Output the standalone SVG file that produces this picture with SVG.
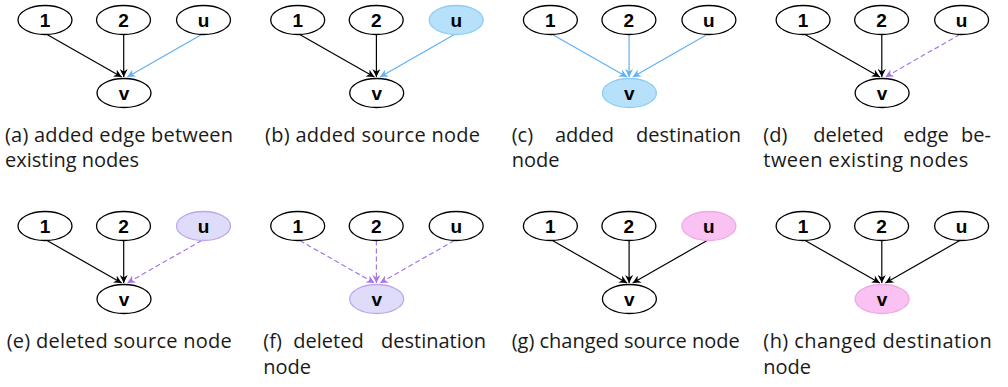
<svg xmlns="http://www.w3.org/2000/svg" width="1008" height="387" viewBox="0 0 1008 387">
<style>
.n ellipse{fill:#fff;stroke:#000;stroke-width:1.3}
.n text{font-family:"Liberation Sans",Arial,sans-serif;font-weight:bold;font-size:19px;text-anchor:middle;fill:#000}
.n.blue ellipse{fill:#b7e1fa;stroke:#8ecdf3}
.n.purple ellipse{fill:#dedcf8;stroke:#bfa6ec}
.n.pink ellipse{fill:#f9c2f2;stroke:#eea8e4}
.e{fill:none;stroke-width:1.2}
.k{stroke:#000;marker-end:url(#ak)}
.b{stroke:#62b0f6;marker-end:url(#ab)}
.p{stroke:#a676e6;stroke-dasharray:5 3;marker-end:url(#ap)}
.cap{font-family:"Open Sans","Liberation Sans",sans-serif;font-size:20px;fill:#1a1a1a}
</style>
<defs>
<marker id="ak" viewBox="0 0 10 10" refX="10" refY="5" markerWidth="8" markerHeight="8" markerUnits="userSpaceOnUse" orient="auto"><path d="M0,0 L10,5 L0,10 L3,5 z" fill="#000"/></marker>
<marker id="ab" viewBox="0 0 10 10" refX="10" refY="5" markerWidth="8" markerHeight="8" markerUnits="userSpaceOnUse" orient="auto"><path d="M0,0 L10,5 L0,10 L3,5 z" fill="#62b0f6"/></marker>
<marker id="ap" viewBox="0 0 10 10" refX="10" refY="5" markerWidth="8" markerHeight="8" markerUnits="userSpaceOnUse" orient="auto"><path d="M0,0 L10,5 L0,10 L3,5 z" fill="#a676e6"/></marker>
</defs>

<!-- (a) -->
<g id="panel-a" transform="translate(5,0)">
<g id="a-edges"><path class="e k" d="M42,34.5 L116.7,77"/><path class="e k" d="M118.7,34.5 L118.7,77"/><path class="e b" d="M196.7,34.5 L122.3,77"/></g>
<g id="a-n1" class="n"><ellipse cx="40" cy="20" rx="27" ry="14.5"/><text x="40" y="26.8">1</text></g>
<g id="a-n2" class="n"><ellipse cx="118.5" cy="20" rx="27" ry="14.5"/><text x="118.5" y="26.8">2</text></g>
<g id="a-nu" class="n"><ellipse cx="198.5" cy="20" rx="27" ry="14.5"/><text x="198.5" y="26.8">u</text></g>
<g id="a-nv" class="n"><ellipse cx="119" cy="93" rx="27" ry="14.5"/><text x="119" y="99.8">v</text></g>
</g>
<!-- (b) -->
<g id="panel-b" transform="translate(257.7,0)">
<g id="b-edges"><path class="e k" d="M42,34.5 L116.7,77"/><path class="e k" d="M118.7,34.5 L118.7,77"/><path class="e b" d="M196.7,34.5 L122.3,77"/></g>
<g id="b-n1" class="n"><ellipse cx="40" cy="20" rx="27" ry="14.5"/><text x="40" y="26.8">1</text></g>
<g id="b-n2" class="n"><ellipse cx="118.5" cy="20" rx="27" ry="14.5"/><text x="118.5" y="26.8">2</text></g>
<g id="b-nu" class="n blue"><ellipse cx="198.5" cy="20" rx="27" ry="14.5"/><text x="198.5" y="26.8">u</text></g>
<g id="b-nv" class="n"><ellipse cx="119" cy="93" rx="27" ry="14.5"/><text x="119" y="99.8">v</text></g>
</g>
<!-- (c) -->
<g id="panel-c" transform="translate(510.4,0)">
<g id="c-edges"><path class="e b" d="M42,34.5 L116.7,77"/><path class="e b" d="M118.7,34.5 L118.7,77"/><path class="e b" d="M196.7,34.5 L122.3,77"/></g>
<g id="c-n1" class="n"><ellipse cx="40" cy="20" rx="27" ry="14.5"/><text x="40" y="26.8">1</text></g>
<g id="c-n2" class="n"><ellipse cx="118.5" cy="20" rx="27" ry="14.5"/><text x="118.5" y="26.8">2</text></g>
<g id="c-nu" class="n"><ellipse cx="198.5" cy="20" rx="27" ry="14.5"/><text x="198.5" y="26.8">u</text></g>
<g id="c-nv" class="n blue"><ellipse cx="119" cy="93" rx="27" ry="14.5"/><text x="119" y="99.8">v</text></g>
</g>
<!-- (d) -->
<g id="panel-d" transform="translate(763.1,0)">
<g id="d-edges"><path class="e k" d="M42,34.5 L116.7,77"/><path class="e k" d="M118.7,34.5 L118.7,77"/><path class="e p" d="M196.7,34.5 L122.3,77"/></g>
<g id="d-n1" class="n"><ellipse cx="40" cy="20" rx="27" ry="14.5"/><text x="40" y="26.8">1</text></g>
<g id="d-n2" class="n"><ellipse cx="118.5" cy="20" rx="27" ry="14.5"/><text x="118.5" y="26.8">2</text></g>
<g id="d-nu" class="n"><ellipse cx="198.5" cy="20" rx="27" ry="14.5"/><text x="198.5" y="26.8">u</text></g>
<g id="d-nv" class="n"><ellipse cx="119" cy="93" rx="27" ry="14.5"/><text x="119" y="99.8">v</text></g>
</g>
<!-- (e) -->
<g id="panel-e" transform="translate(5,206)">
<g id="e-edges"><path class="e k" d="M42,34.5 L116.7,77"/><path class="e k" d="M118.7,34.5 L118.7,77"/><path class="e p" d="M196.7,34.5 L122.3,77"/></g>
<g id="e-n1" class="n"><ellipse cx="40" cy="20" rx="27" ry="14.5"/><text x="40" y="26.8">1</text></g>
<g id="e-n2" class="n"><ellipse cx="118.5" cy="20" rx="27" ry="14.5"/><text x="118.5" y="26.8">2</text></g>
<g id="e-nu" class="n purple"><ellipse cx="198.5" cy="20" rx="27" ry="14.5"/><text x="198.5" y="26.8">u</text></g>
<g id="e-nv" class="n"><ellipse cx="119" cy="93" rx="27" ry="14.5"/><text x="119" y="99.8">v</text></g>
</g>
<!-- (f) -->
<g id="panel-f" transform="translate(257.7,206)">
<g id="f-edges"><path class="e p" d="M42,34.5 L116.7,77"/><path class="e p" d="M118.7,34.5 L118.7,77"/><path class="e p" d="M196.7,34.5 L122.3,77"/></g>
<g id="f-n1" class="n"><ellipse cx="40" cy="20" rx="27" ry="14.5"/><text x="40" y="26.8">1</text></g>
<g id="f-n2" class="n"><ellipse cx="118.5" cy="20" rx="27" ry="14.5"/><text x="118.5" y="26.8">2</text></g>
<g id="f-nu" class="n"><ellipse cx="198.5" cy="20" rx="27" ry="14.5"/><text x="198.5" y="26.8">u</text></g>
<g id="f-nv" class="n purple"><ellipse cx="119" cy="93" rx="27" ry="14.5"/><text x="119" y="99.8">v</text></g>
</g>
<!-- (g) -->
<g id="panel-g" transform="translate(510.4,206)">
<g id="g-edges"><path class="e k" d="M42,34.5 L116.7,77"/><path class="e k" d="M118.7,34.5 L118.7,77"/><path class="e k" d="M196.7,34.5 L122.3,77"/></g>
<g id="g-n1" class="n"><ellipse cx="40" cy="20" rx="27" ry="14.5"/><text x="40" y="26.8">1</text></g>
<g id="g-n2" class="n"><ellipse cx="118.5" cy="20" rx="27" ry="14.5"/><text x="118.5" y="26.8">2</text></g>
<g id="g-nu" class="n pink"><ellipse cx="198.5" cy="20" rx="27" ry="14.5"/><text x="198.5" y="26.8">u</text></g>
<g id="g-nv" class="n"><ellipse cx="119" cy="93" rx="27" ry="14.5"/><text x="119" y="99.8">v</text></g>
</g>
<!-- (h) -->
<g id="panel-h" transform="translate(763.1,206)">
<g id="h-edges"><path class="e k" d="M42,34.5 L116.7,77"/><path class="e k" d="M118.7,34.5 L118.7,77"/><path class="e k" d="M196.7,34.5 L122.3,77"/></g>
<g id="h-n1" class="n"><ellipse cx="40" cy="20" rx="27" ry="14.5"/><text x="40" y="26.8">1</text></g>
<g id="h-n2" class="n"><ellipse cx="118.5" cy="20" rx="27" ry="14.5"/><text x="118.5" y="26.8">2</text></g>
<g id="h-nu" class="n"><ellipse cx="198.5" cy="20" rx="27" ry="14.5"/><text x="198.5" y="26.8">u</text></g>
<g id="h-nv" class="n pink"><ellipse cx="119" cy="93" rx="27" ry="14.5"/><text x="119" y="99.8">v</text></g>
</g>

<g id="captions">
<text class="cap" x="5" y="141.5" textLength="228" lengthAdjust="spacing">(a) added edge between</text>
<text class="cap" x="5" y="167">existing nodes</text>
<text class="cap" x="265" y="141.5" textLength="215" lengthAdjust="spacing">(b) added source node</text>
<text class="cap" y="141.5"><tspan x="511.7">(c)</tspan> <tspan x="555">added</tspan> <tspan x="636">destination</tspan></text>
<text class="cap" x="511.7" y="167">node</text>
<text class="cap" y="141.5"><tspan x="763.3">(d)</tspan> <tspan x="813.3">deleted</tspan> <tspan x="903.3">edge</tspan> <tspan x="961">be-</tspan></text>
<text class="cap" x="763.3" y="167" textLength="205" lengthAdjust="spacing">tween existing nodes</text>
<text class="cap" x="6.7" y="348" textLength="225" lengthAdjust="spacing">(e) deleted source node</text>
<text class="cap" y="348"><tspan x="263.3">(f)</tspan> <tspan x="293.3">deleted</tspan> <tspan x="381">destination</tspan></text>
<text class="cap" x="263.3" y="374">node</text>
<text class="cap" x="511.7" y="348" textLength="228" lengthAdjust="spacing">(g) changed source node</text>
<text class="cap" x="763.3" y="348" textLength="228.4" lengthAdjust="spacing">(h) changed destination</text>
<text class="cap" x="763.3" y="374">node</text>
</g>
</svg>
